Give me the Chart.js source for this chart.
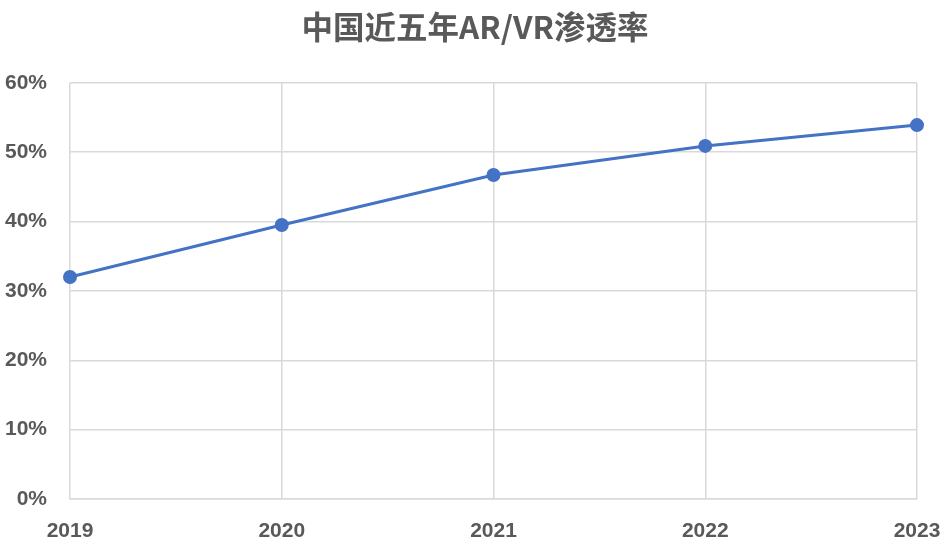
<!DOCTYPE html>
<html>
<head>
<meta charset="utf-8">
<script src="https://cdn.jsdelivr.net/npm/chart.js@4/dist/chart.umd.min.js"></script>
<style>
  html, body { margin: 0; padding: 0; background: #fff; }
  #wrap { width: 950px; height: 546px; }
</style>
</head>
<body>
<div id="wrap"><canvas id="c"></canvas></div>
<script>
// chart data
const years = ['2019', '2020', '2021', '2022', '2023'];
const penetration = [32.0, 39.5, 46.7, 50.9, 53.9];
const yTicks = [0, 10, 20, 30, 40, 50, 60];

const textColor = '#595959';
const gridColor = '#d9d9d9';
const lineColor = '#4472C4';
const tickFont = { family: "'Liberation Sans', Arial, sans-serif", size: 21, weight: 'bold' };

new Chart(document.getElementById('c'), {
  type: 'line',
  data: {
    labels: years,
    datasets: [{
      label: '渗透率',
      data: penetration,
      borderColor: lineColor,
      backgroundColor: lineColor,
      borderWidth: 3,
      pointRadius: 5.5,
      pointBackgroundColor: lineColor,
      pointBorderColor: lineColor,
      tension: 0,
      fill: false,
    }],
  },
  options: {
    responsive: true,
    maintainAspectRatio: false,
    animation: false,
    layout: { padding: 0 },
    scales: {
      x: {
        offset: false,
        grid: { color: gridColor, lineWidth: 1.5, drawTicks: false },
        border: { color: gridColor, width: 1.5 },
        ticks: { color: textColor, padding: 20, maxRotation: 0, font: tickFont },
        afterFit: (scale) => {
          scale.height = 47;
          scale.paddingLeft = 0;
          scale.paddingRight = 33;
        },
      },
      y: {
        min: 0,
        max: 60,
        afterBuildTicks: (scale) => { scale.ticks = yTicks.map(v => ({ value: v })); },
        grid: { color: gridColor, lineWidth: 1.5, drawTicks: false },
        border: { display: false },
        ticks: {
          color: textColor,
          padding: 23,
          font: tickFont,
          callback: (val) => val + '%',
        },
        afterFit: (scale) => { scale.width = 70; },
      },
    },
    plugins: {
      legend: { display: false },
      tooltip: { enabled: false },
      title: {
        display: true,
        text: '中国近五年AR/VR渗透率',
        color: textColor,
        font: { family: "'Noto Sans CJK SC', sans-serif", size: 31.5, weight: 'bold' },
        padding: { top: 8, bottom: 37 },
      },
    },
  },
});
</script>
</body>
</html>
